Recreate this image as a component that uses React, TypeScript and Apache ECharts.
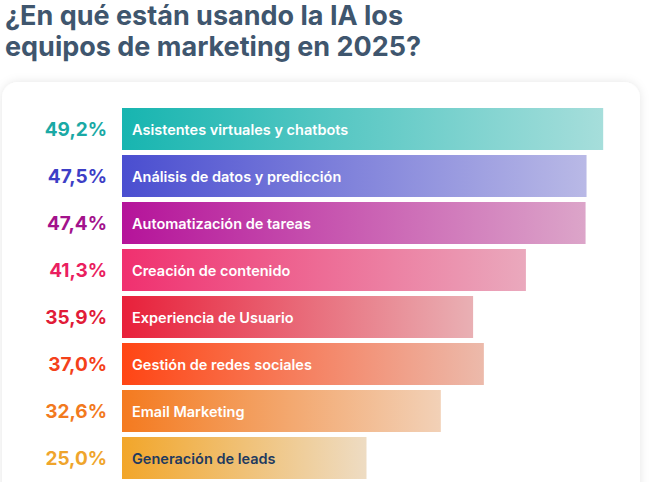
import React, { useEffect, useRef } from "react";
import * as echarts from "echarts";

const categories = [
  "Asistentes virtuales y chatbots",
  "Análisis de datos y predicción",
  "Automatización de tareas",
  "Creación de contenido",
  "Experiencia de Usuario",
  "Gestión de redes sociales",
  "Email Marketing",
  "Generación de leads",
];
const values = [49.2, 47.5, 47.4, 41.3, 35.9, 37.0, 32.6, 25.0];
const valueLabels = ["49,2%", "47,5%", "47,4%", "41,3%", "35,9%", "37,0%", "32,6%", "25,0%"];
const startColors = ["#17b5b0", "#4a4ed0", "#b5139a", "#f0306f", "#e8203a", "#ff4514", "#f47a1f", "#f2a62a"];
const endColors = ["#a6dedb", "#b9b9e6", "#dca5c9", "#eaa9bd", "#e9b0b4", "#ecbaab", "#f2d1b7", "#eedcc3"];
const valueColors = ["#1aa9a5", "#3d3ec6", "#a3128c", "#ea1f5f", "#e11c38", "#f4411a", "#f27a1e", "#efa52c"];
const nameColors = ["#ffffff", "#ffffff", "#ffffff", "#ffffff", "#ffffff", "#ffffff", "#ffffff", "#1f3a5f"];

const FONT = "Inter, 'Noto Sans', sans-serif";

export default function App() {
  const ref = useRef<HTMLDivElement>(null);
  useEffect(() => {
    document.body.style.margin = "0";
    const chart = echarts.init(ref.current!, null, { renderer: "svg" });
    const rich: Record<string, any> = {};
    valueColors.forEach((c, i) => {
      rich["v" + i] = { color: c, fontSize: 19, fontWeight: 700, fontFamily: FONT };
    });
    chart.setOption({
      animation: false,
      backgroundColor: "#ffffff",
      title: {
        text: "¿En qué están usando la IA los\nequipos de marketing en 2025?",
        left: 0,
        top: -5,
        textStyle: {
          color: "#3f566e",
          fontSize: 27,
          fontWeight: 700,
          fontFamily: FONT,
          lineHeight: 31,
        },
      },
      graphic: [
        {
          type: "rect",
          z: -10,
          shape: { x: 2, y: 82, width: 638, height: 430, r: 16 },
          style: {
            fill: "#ffffff",
            shadowBlur: 10,
            shadowColor: "rgba(0,0,0,0.10)",
            shadowOffsetX: 0,
            shadowOffsetY: 0,
          },
        },
      ],
      grid: { left: 122, right: 39, top: 105.5, bottom: 0.5, containLabel: false },
      xAxis: {
        type: "value",
        min: 0,
        max: 50,
        show: false,
      },
      yAxis: {
        type: "category",
        data: categories,
        inverse: true,
        axisLine: { show: false },
        axisTick: { show: false },
        axisLabel: {
          margin: 15,
          formatter: (_v: string, i: number) => `{v${i}|${valueLabels[i]}}`,
          rich,
        },
      },
      series: [
        {
          type: "bar",
          barWidth: 42,
          data: values.map((v, i) => ({
            value: v,
            itemStyle: {
              color: new echarts.graphic.LinearGradient(0, 0, 1, 0, [
                { offset: 0, color: startColors[i] },
                { offset: 1, color: endColors[i] },
              ]),
            },
            label: {
              show: true,
              position: "insideLeft",
              distance: 10,
              formatter: categories[i],
              color: nameColors[i],
              fontSize: 14.5,
              fontWeight: 600,
              fontFamily: FONT,
            },
          })),
        },
      ],
    });
    return () => chart.dispose();
  }, []);
  return <div ref={ref} style={{ position: "fixed", left: 0, top: 0, width: 650, height: 482 }} />;
}
